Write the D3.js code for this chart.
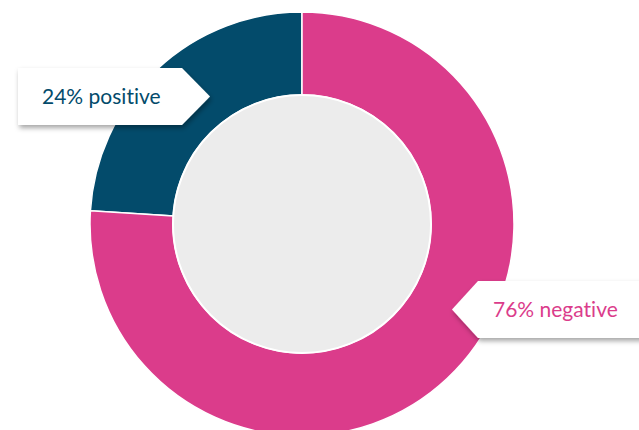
<!DOCTYPE html>
<html>
<head>
<meta charset="utf-8">
<script src="https://cdn.jsdelivr.net/npm/d3@7"></script>
<style>
  html, body { margin: 0; padding: 0; background: #fff; }
  svg { display: block; }
  text { font-variant-ligatures: none; }
</style>
</head>
<body>
<svg id="chart" width="639" height="430"></svg>
<script>
// Sentiment split
const categories = ["positive", "negative"];
const values = [24, 76];
const colors = ["#034b6b", "#db3c8b"];

const width = 639, height = 430;
const cx = 302, cy = 224;
const outerR = 212, innerR = 129;

const svg = d3.select("#chart");

const defs = svg.append("defs");
const shadow = defs.append("filter").attr("id", "shadow")
  .attr("x", "-20%").attr("y", "-30%").attr("width", "140%").attr("height", "170%");
shadow.append("feDropShadow")
  .attr("dx", 1.5).attr("dy", 3).attr("stdDeviation", 2.5)
  .attr("flood-color", "#000").attr("flood-opacity", 0.35);

const pie = d3.pie().sort(null).value(d => d.value);
const data = pie(categories.map((c, i) => ({ name: c, value: values[i], color: colors[i] })));
// positive ends at 12 o'clock, negative runs clockwise from there
const offset = -(values[0] / d3.sum(values)) * 2 * Math.PI;
data.forEach(d => { d.startAngle += offset; d.endAngle += offset; });

const arc = d3.arc().innerRadius(innerR).outerRadius(outerR);
const g = svg.append("g").attr("transform", `translate(${cx},${cy})`);

g.selectAll("path.slice").data(data).join("path")
  .attr("class", "slice")
  .attr("d", arc)
  .attr("fill", d => d.data.color)
  .attr("stroke", "#fff")
  .attr("stroke-width", 1.5);

g.append("circle").attr("r", innerR)
  .attr("fill", "#ececec")
  .attr("stroke", "#fff")
  .attr("stroke-width", 2);

// Callout labels
function callout(x, y, w, h, tip, pointLeft, text, color, tx) {
  const grp = svg.append("g");
  let pts;
  if (pointLeft) {
    pts = [[x + tip, y], [x + w, y], [x + w, y + h], [x + tip, y + h], [x, y + h / 2]];
  } else {
    pts = [[x, y], [x + w - tip, y], [x + w, y + h / 2], [x + w - tip, y + h], [x, y + h]];
  }
  grp.append("path")
    .attr("d", d3.line()(pts) + "Z")
    .attr("fill", "#fff")
    .attr("filter", "url(#shadow)");
  grp.append("text")
    .attr("x", tx).attr("y", y + h / 2)
    .attr("dy", "0.35em")
    .attr("font-family", "Lato, sans-serif")
    .attr("font-size", 21)
    .attr("fill", color)
    .text(text);
}

callout(18, 68, 192, 57, 28, false, `${values[0]}% ${categories[0]}`, colors[0], 42);
callout(452, 281, 200, 57, 26, true, `${values[1]}% ${categories[1]}`, colors[1], 493);
</script>
</body>
</html>
